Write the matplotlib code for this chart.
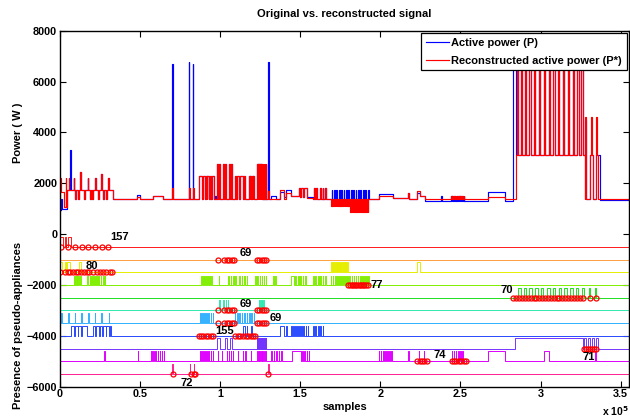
import numpy as np
import matplotlib
matplotlib.use('Agg')
import matplotlib.pyplot as plt
from matplotlib import ticker

plt.rcParams['font.family'] = ['Liberation Sans', 'DejaVu Sans']
plt.rcParams['font.weight'] = 'bold'

# ---- data (x in units of 1e5 samples) ----
# top: active power (P) and reconstructed (P*), as step levels + pulses
p_base = [(0, 950), (0.004, 1400), (0.01, 1000), (0.045, 1720), (0.33, 1380), (0.48, 1530), (0.50, 1380),
          (0.58, 1500), (0.645, 1380), (0.87, 2300), (0.96, 1380), (1.09, 2300), (1.14, 1380), (1.32, 1480),
          (1.35, 1380), (1.375, 1650), (1.40, 1450), (1.41, 1750), (1.44, 1500), (1.49, 1800), (1.54, 1450),
          (1.58, 1400), (1.93, 1380), (1.99, 1560), (2.08, 1420), (2.17, 1600), (2.18, 1400), (2.23, 1600),
          (2.25, 1500), (2.28, 1300), (2.67, 1650), (2.78, 1300), (2.83, 3100), (3.37, 1350)]
r_base = [(0, 900), (0.003, 2200), (0.008, 1650), (0.025, 1050), (0.045, 1720), (0.33, 1380), (0.48, 1450),
          (0.50, 1380), (0.58, 1480), (0.645, 1380), (0.87, 2300), (0.96, 1380), (1.09, 2300), (1.14, 1380),
          (1.375, 1750), (1.40, 1380), (1.41, 1600), (1.44, 1480), (1.49, 1800), (1.54, 1420), (1.58, 1400),
          (1.93, 1380), (1.99, 1500), (2.08, 1420), (2.17, 1600), (2.18, 1400), (2.23, 1700), (2.25, 1500),
          (2.28, 1380), (2.67, 1450), (2.78, 1380), (2.845, 3100), (3.275, 1380), (3.31, 3100), (3.33, 1380),
          (3.345, 3100), (3.36, 1400)]

dips_a = [0.095, 0.112, 0.15, 0.185, 0.2, 0.236, 0.27, 0.29]
peaks_a = [(0.085, 2200), (0.128, 2450), (0.172, 2200), (0.218, 2200), (0.258, 2350), (0.302, 2200)]
dips_b = [0.885, 0.905, 0.915, 0.93, 0.945]
peaks_c = [0.98, 0.99, 1.02, 1.03, 1.055, 1.065]
dips_d = [1.10, 1.12]
pulses_e = [1.15, 1.18, 1.185, 1.20, 1.207]
peaks_f = [1.23, 1.236, 1.242, 1.248, 1.254, 1.26, 1.266, 1.272, 1.278, 1.284]
dips_g = [1.50, 1.52]
peaks_h = [1.585, 1.60, 1.625, 1.64, 1.655]
bumps_i = [2.44, 2.45, 2.46, 2.47, 2.48, 2.49, 2.50, 2.51, 2.52]
spikes_j = [2.85, 2.875, 2.90, 2.93, 2.96, 2.99, 3.02, 3.05, 3.08, 3.11, 3.14, 3.17, 3.20, 3.23, 3.255]
dense_k1 = [1.69, 1.70, 1.71, 1.72, 1.73, 1.74, 1.75, 1.76, 1.77, 1.78, 1.79, 1.80]
dense_k2 = [1.81, 1.82, 1.83, 1.84, 1.85, 1.86, 1.87, 1.88, 1.89, 1.90, 1.91, 1.92]
p_teeth = [1.695, 1.71, 1.725, 1.74, 1.755, 1.77, 1.785, 1.80, 1.815, 1.83, 1.845, 1.86, 1.875, 1.89,
           1.905, 1.92]

p_only = [(0.065, 0.069, 3300), (0.700, 0.703, 6700), (0.805, 0.808, 6750), (0.829, 0.832, 6700),
          (1.298, 1.302, 6750), (0.97, 0.975, 1500), (2.38, 2.385, 1500), (2.83, 2.845, 6600),
          (3.278, 3.283, 4500), (3.285, 3.31, 1380), (3.33, 3.345, 1380)]
r_only = [(0.035, 0.04, 2200), (0.055, 0.058, 2200), (0.70, 0.705, 1800), (0.807, 0.812, 1800),
          (0.833, 0.838, 1800), (1.30, 1.305, 1700), (3.28, 3.285, 4600), (3.315, 3.32, 4600),
          (3.345, 3.35, 4600)]

# bottom: pseudo-appliance presence rows
row_base = [-500, -1000, -1500, -2000, -2500, -3000, -3500, -4000, -4500, -5000, -5500]
row_amp = [400, 400, 390, 350, 400, 390, 400, 380, 400, 400, 380]
row_colors = ['#ff1a1a', '#ffa040', '#e6ee00', '#80ee00', '#20e020', '#30e8b0',
              '#30b0ff', '#2848ff', '#7434ff', '#e000ff', '#ff2090']

row1_on = [(0.0, 0.02), (0.03, 0.04), (0.05, 0.07)]
row2_on = []
row3_on = [(0.0, 0.01), (0.03, 0.035), (0.045, 0.06), (0.12, 0.13), (2.23, 2.245)]
row3_comb = [1.69, 1.70, 1.71, 1.72, 1.73, 1.74, 1.75, 1.76, 1.77, 1.78, 1.79]
row4_comb = [0.085, 0.095, 0.105, 0.115, 0.125, 0.17, 0.19, 0.2, 0.215, 0.225, 0.24, 0.255, 0.27, 0.28,
             0.88, 0.893, 0.906, 0.919, 0.932, 0.945, 0.99, 1.05, 1.065, 1.08, 1.095, 1.12, 1.135, 1.15,
             1.165, 1.22, 1.233, 1.246, 1.259, 1.272, 1.285, 1.33, 1.345, 1.47, 1.485, 1.5, 1.515, 1.53,
             1.58, 1.595, 1.61, 1.625, 1.64, 1.655, 1.69, 1.703, 1.716, 1.729, 1.742, 1.755, 1.768,
             1.781, 1.794, 1.807, 1.82, 1.833, 1.846, 1.859, 1.872, 1.885, 1.898, 1.911, 1.924]
row4_on = [(1.44, 1.46)]
row5_wide = [2.862, 2.895, 2.93, 2.966, 3.002, 3.04, 3.075, 3.112, 3.148, 3.185, 3.22, 3.258]
row5_thin = [3.305, 3.342]
row6_comb = [0.99, 0.998, 1.02, 1.035, 1.047, 1.24, 1.25, 1.26, 1.267]
row7_comb = [0.006, 0.05, 0.092, 0.133, 0.175, 0.217, 0.258, 0.305, 0.875, 0.888, 0.901, 0.914, 0.927,
             0.94, 0.953, 1.09, 1.105, 1.12, 1.135, 1.15, 1.165, 1.18, 1.195, 1.21]
row8_on = [(0.069, 0.09), (0.095, 0.11), (0.115, 0.13), (0.135, 0.17), (0.204, 0.22), (0.225, 0.245),
           (0.25, 0.265), (0.27, 0.285), (0.29, 0.305), (0.31, 0.32), (1.145, 1.155), (1.165, 1.17),
           (1.19, 1.2), (1.375, 1.4), (1.41, 1.415), (1.44, 1.45)]
row8_comb = [1.455, 1.468, 1.481, 1.494, 1.507, 1.52, 1.533, 1.546, 1.58, 1.595, 1.61, 1.625, 1.64]
row9_steps = [(0, -4500), (2.84, -4100), (3.36, -4500)]
row9_on = [(0.98, 1.0), (1.03, 1.04), (1.06, 1.075)]
row9_comb = [1.23, 1.234, 1.238, 1.242, 1.246, 1.25, 1.254, 1.258, 1.262, 1.266, 1.27, 1.274, 1.278, 1.282, 1.286]
row9_dips = [3.262, 3.285, 3.31, 3.335]
row10_comb = [0.277, 0.485, 0.57, 0.583, 0.596, 0.609, 0.622, 0.635, 0.648, 0.875, 0.888, 0.901, 0.914,
              0.927, 0.94, 0.953, 0.985, 1.01, 1.04, 1.053, 1.066, 1.079, 1.11, 1.14, 1.155, 1.19, 1.23,
              1.24, 1.25, 1.26, 1.27, 1.28, 1.32, 1.335, 1.35, 1.365, 1.38, 1.50, 1.513, 1.526, 1.539,
              1.552, 1.99, 2.003, 2.016, 2.029, 2.042, 2.055, 2.068, 2.24, 2.27, 2.445, 2.458, 2.471,
              2.484, 2.497, 2.51, 3.34]
row10_on = [(1.45, 1.5), (2.17, 2.18), (2.67, 2.78), (3.02, 3.05)]
row11_comb = [0.70, 0.81, 0.835, 1.30]

marks = [
    [0.006, 0.052, 0.094, 0.135, 0.177, 0.219, 0.26, 0.302],
    [0.985, 1.027, 1.042, 1.056, 1.073, 1.087, 1.229, 1.244, 1.26, 1.275, 1.287],
    [0.0, 0.031, 0.048, 0.0625, 0.083, 0.098, 0.114, 0.131, 0.152, 0.167, 0.183, 0.208, 0.229, 0.25,
     0.27, 0.29, 0.3125, 0.327],
    [1.80, 1.81, 1.82, 1.83, 1.84, 1.85, 1.86, 1.87, 1.88, 1.89, 1.90, 1.91, 1.92],
    [2.83, 2.848, 2.866, 2.884, 2.902, 2.92, 2.938, 2.956, 2.974, 2.992, 3.01, 3.028, 3.046, 3.064,
     3.082, 3.10, 3.118, 3.136, 3.154, 3.172, 3.19, 3.208, 3.226, 3.244, 3.262, 3.307, 3.347],
    [0.985, 1.027, 1.042, 1.056, 1.073, 1.087, 1.229, 1.244, 1.26, 1.275, 1.287],
    [0.985, 1.027, 1.042, 1.056, 1.073, 1.087, 1.229, 1.244, 1.26, 1.275, 1.287],
    [0.865, 0.88, 0.895, 0.91, 0.925, 0.94, 0.955, 1.095, 1.11, 1.125, 1.14, 1.16, 1.175, 1.19, 1.205, 1.22],
    [3.27, 3.283, 3.296, 3.309, 3.322, 3.335, 3.348],
    [2.23, 2.245, 2.26, 2.275, 2.29, 2.445, 2.46, 2.475, 2.49, 2.505, 2.52, 2.535],
    [0.705, 0.815, 0.835, 0.845, 1.30],
]
labels = [('157', 0.375, -100), ('69', 1.16, -750), ('80', 0.2, -1250), ('77', 1.98, -2000),
          ('70', 2.79, -2200), ('69', 1.16, -2750), ('69', 1.35, -3300), ('155', 1.03, -3800),
          ('74', 2.37, -4750), ('71', 3.3, -4850), ('72', 0.79, -5850)]

X_END = 3.554


def comb(starts, w, level):
    return [(s, s + w, level) for s in starts]


def steps(base, pulses):
    edges = sorted(set([b[0] for b in base] + [p[0] for p in pulses] + [p[1] for p in pulses] + [X_END]))
    bx = [b[0] for b in base]
    ys = []
    for e in edges:
        lvl = base[np.searchsorted(bx, e, side='right') - 1][1]
        for p0, p1, pl in pulses:
            if p0 <= e < p1:
                lvl = pl
        ys.append(lvl)
    return np.array(edges) * 1e5, np.array(ys)


shared = (comb(dips_a, 0.006, 1380) + [(s, s + 0.005, v) for s, v in peaks_a] + comb(dips_b, 0.005, 1380)
          + comb(peaks_c, 0.007, 2750) + comb(dips_d, 0.004, 1380) + comb(pulses_e, 0.005, 2300)
          + comb(peaks_f, 0.004, 2750) + comb(dips_g, 0.004, 1450) + comb(peaks_h, 0.005, 1800)
          + comb(bumps_i, 0.005, 1500) + comb(spikes_j, 0.008, 6600))
px, py = steps(p_base, shared + p_only + comb(p_teeth, 0.006, 1720))
rx, ry = steps(r_base, shared + r_only + comb(dense_k1, 0.005, 1100) + comb(dense_k2, 0.005, 880))

fig = plt.figure(figsize=(6.3, 4.19), dpi=100)
ax = fig.add_axes([0.0952, 0.0771, 0.9037, 0.8496])

ax.plot(px, py, color='#0000ff', lw=0.85, drawstyle='steps-post', label='Active power (P)')
ax.plot(rx, ry, color='#ff0000', lw=0.85, drawstyle='steps-post', label='Reconstructed active power (P*)')

# pseudo-appliance rows
row_on = [
    row1_on,
    row2_on,
    row3_on + [(s, s + 0.007) for s in row3_comb],
    row4_on + [(s, s + 0.004) for s in row4_comb],
    [(s, s + 0.016) for s in row5_wide] + [(s, s + 0.003) for s in row5_thin],
    [(s, s + 0.004) for s in row6_comb],
    [(s, s + 0.004) for s in row7_comb],
    row8_on + [(s, s + 0.004) for s in row8_comb],
    None,
    row10_on + [(s, s + 0.004) for s in row10_comb],
    [(s, s + 0.004) for s in row11_comb],
]
for k in range(11):
    b = row_base[k]
    top = b + row_amp[k]
    if k == 8:
        pl = [(a, e, -4100) for a, e in row9_on] + comb(row9_comb, 0.002, -4100) + comb(row9_dips, 0.01, -4500)
        xs, ys = steps(row9_steps, pl)
    else:
        xs, ys = steps([(0, b)], [(a, e, top) for a, e in row_on[k]])
    ax.plot(xs, ys, color=row_colors[k], lw=0.7, drawstyle='steps-post')

for k in range(11):
    ax.plot(np.array(marks[k]) * 1e5, [row_base[k]] * len(marks[k]), 'o', mfc='none', mec='red',
            ms=3.6, mew=0.9, ls='none')

for t, x, y in labels:
    ax.text(x * 1e5, y, t, ha='center', va='center', fontsize=8, fontweight='bold')

ax.set_xlim(0, X_END * 1e5)
ax.set_ylim(-6000, 8000)
ax.set_xticks(np.arange(0, 3.51e5, 0.5e5))
ax.xaxis.set_major_formatter(ticker.FuncFormatter(lambda v, p: f'{v / 1e5:g}'))
ax.set_yticks(np.arange(-6000, 8001, 2000))
ax.tick_params(direction='in', top=True, right=True, length=4, width=0.8, labelsize=7.8, pad=2)
for s in ax.spines.values():
    s.set_linewidth(1.0)

ax.set_title('Original vs. reconstructed signal', fontsize=8, fontweight='bold', pad=10)
ax.set_xlabel('samples', fontsize=8, fontweight='bold', labelpad=2)
ax.text(-0.074, 4000, 'Power ( W )', rotation=90, ha='center', va='center', fontsize=8,
        fontweight='bold', transform=ax.get_yaxis_transform())
ax.text(-0.074, -3600, 'Presence of pseudo-appliances', rotation=90, ha='center', va='center',
        fontsize=8, fontweight='bold', transform=ax.get_yaxis_transform())
ax.text(1.0, -0.068, r'x 10$^{5}$', ha='right', va='center', fontsize=7.5, fontweight='bold',
        transform=ax.transAxes)

leg = ax.legend(loc='upper right', fontsize=8, frameon=True, fancybox=False, edgecolor='black',
                framealpha=1, borderaxespad=0.25, handlelength=2.1, labelspacing=0.7,
                handletextpad=0.2, borderpad=0.4)
leg.get_frame().set_linewidth(0.9)
leg.set_zorder(10)

fig.savefig('out.png', dpi=100)
